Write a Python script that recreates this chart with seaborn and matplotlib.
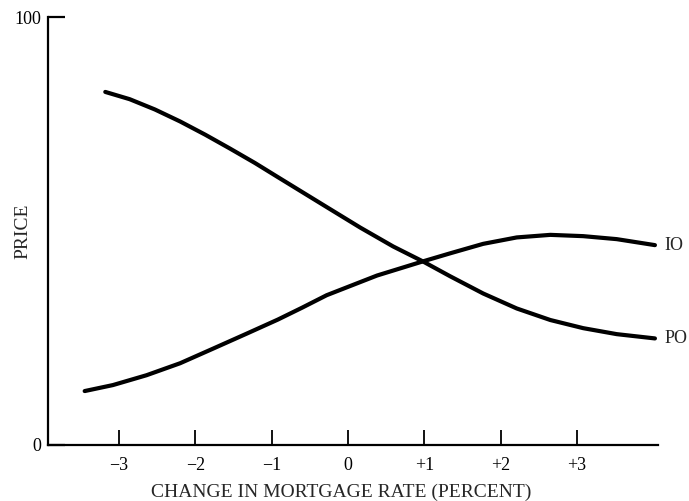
import matplotlib
matplotlib.use("Agg")
import matplotlib.pyplot as plt
import seaborn as sns
import pandas as pd

# values (rate change in %, price 0-100)
po_rate = [-3.18, -2.86, -2.53, -2.20, -1.87, -1.55, -1.22, -0.92, -0.60, -0.28,
           0.16, 0.59, 0.98, 1.34, 1.77, 2.21, 2.65, 3.08, 3.52, 4.02]
po_price = [82.5, 80.8, 78.4, 75.6, 72.5, 69.3, 65.9, 62.6, 59.1, 55.6,
            50.8, 46.4, 42.9, 39.4, 35.4, 31.9, 29.2, 27.3, 25.9, 24.9]

io_rate = [-3.45, -3.08, -2.64, -2.20, -1.77, -1.33, -0.92, -0.60, -0.28,
           0.38, 0.98, 1.34, 1.77, 2.21, 2.65, 3.08, 3.52, 4.02]
io_price = [12.6, 14.0, 16.3, 19.1, 22.5, 26.0, 29.3, 32.1, 35.0,
            39.6, 42.9, 44.8, 47.0, 48.5, 49.1, 48.8, 48.1, 46.7]

x_ticks = [-3, -2, -1, 0, 1, 2, 3]
x_tick_labels = ["\u22123", "\u22122", "\u22121", "0", "+1", "+2", "+3"]

sns.set_theme(style="ticks")
plt.rcParams["font.family"] = ["Liberation Serif", "DejaVu Serif"]

df = pd.concat([
    pd.DataFrame({"rate": po_rate, "price": po_price, "series": "PO"}),
    pd.DataFrame({"rate": io_rate, "price": io_price, "series": "IO"}),
])

fig = plt.figure(figsize=(6.89, 5.01), dpi=100)
ax = fig.add_axes([0.0697, 0.1118, 0.8853, 0.8542])

sns.lineplot(data=df, x="rate", y="price", units="series", estimator=None,
             color="black", linewidth=3, sort=True, ax=ax, legend=False,
             solid_joinstyle="round", solid_capstyle="round")

ax.set_xlim(-3.93, 4.06)
ax.set_ylim(0, 100)
sns.despine(ax=ax)
for side in ["left", "bottom"]:
    ax.spines[side].set_linewidth(1.6)
    ax.spines[side].set_color("black")

ax.set_xticks(x_ticks)
ax.set_xticklabels(x_tick_labels)
ax.set_yticks([0, 100])
ax.set_yticklabels(["0", "100"])
ax.tick_params(axis="x", direction="in", length=11, width=1.3, pad=9,
               labelsize=13, colors="black")
ax.tick_params(axis="y", direction="in", length=12, width=1.6, pad=5,
               labelsize=13, colors="black")

ax.set_xlabel("CHANGE IN MORTGAGE RATE (PERCENT)", fontsize=14)
ax.xaxis.set_label_coords(0.48, -0.09)
ax.set_ylabel("PRICE", fontsize=14)
ax.yaxis.set_label_coords(-0.028, 0.5)

# series labels at the right end of each curve
ax.annotate("IO", xy=(io_rate[-1], io_price[-1]), xytext=(7, 0),
            textcoords="offset points", va="center", fontsize=13,
            annotation_clip=False)
ax.annotate("PO", xy=(po_rate[-1], po_price[-1]), xytext=(7, 0),
            textcoords="offset points", va="center", fontsize=13,
            annotation_clip=False)

fig.savefig("out.png", dpi=100)
